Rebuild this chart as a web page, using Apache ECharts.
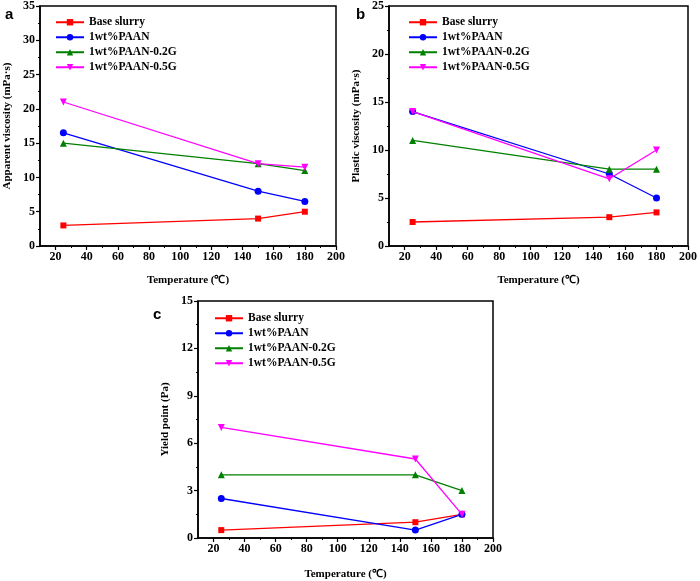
<!DOCTYPE html>
<html>
<head>
<meta charset="utf-8">
<script src="https://cdn.jsdelivr.net/npm/echarts@6/dist/echarts.min.js"></script>
<style>html,body{margin:0;padding:0;background:#fff}#c{width:700px;height:581px}</style>
</head>
<body>
<div id="c"></div>
<script>
const temperatures = [25, 150, 180];
const seriesNames = ['Base slurry', '1wt%PAAN', '1wt%PAAN-0.2G', '1wt%PAAN-0.5G'];
const colors = ['#ff0000', '#0000ff', '#008000', '#ff00ff'];
const xMajorTicks = [20, 40, 60, 80, 100, 120, 140, 160, 180, 200];
const xMinorTicks = [30, 50, 70, 90, 110, 130, 150, 170, 190];

// Panel a: apparent viscosity (mPa·s)
const aBase = [3, 4, 5];
const aPAAN = [16.5, 8, 6.5];
const aPAAN02G = [15, 12, 11];
const aPAAN05G = [21, 12, 11.5];
// Panel b: plastic viscosity (mPa·s)
const bBase = [2.5, 3, 3.5];
const bPAAN = [14, 7.5, 5];
const bPAAN02G = [11, 8, 8];
const bPAAN05G = [14, 7, 10];
// Panel c: yield point (Pa)
const cBase = [0.5, 1, 1.5];
const cPAAN = [2.5, 0.5, 1.5];
const cPAAN02G = [4, 4, 3];
const cPAAN05G = [7, 5, 1.5];

const panels = [
  {label: 'a', yName: 'Apparent viscosity (mPa·s)', yMax: 35, yInt: 5, data: [aBase, aPAAN, aPAAN02G, aPAAN05G],
   grid: {left: 40, top: 5, width: 296, height: 241}, xGap: 29, labelPos: [5, 16], legend: {left: 50, top: 11}},
  {label: 'b', yName: 'Plastic viscosity (mPa·s)', yMax: 25, yInt: 5, data: [bBase, bPAAN, bPAAN02G, bPAAN05G],
   grid: {left: 389, top: 5, width: 301, height: 241}, xGap: 29, labelPos: [356, 16], legend: {left: 403, top: 11}},
  {label: 'c', yName: 'Yield point (Pa)', yMax: 15, yInt: 3, data: [cBase, cPAAN, cPAAN02G, cPAAN05G],
   grid: {left: 198, top: 301, width: 295, height: 238}, xGap: 31, labelPos: [153, 316], legend: {left: 209, top: 307}}
];

const symbols = ['rect', 'circle', 'triangle', 'triangle'];
const rotations = [0, 0, 0, 180];
const FONT = '"Liberation Serif", "Times New Roman", serif';

const grids = [], xAxes = [], yAxes = [], series = [], legends = [], graphics = [];
panels.forEach((p, i) => {
  grids.push(Object.assign({show: true, borderColor: '#000', borderWidth: 1.5, backgroundColor: 'transparent'}, p.grid));
  xAxes.push({
    type: 'value', gridIndex: i, min: 10, max: 200,
    name: 'Temperature (℃)', nameLocation: 'middle', nameGap: p.xGap,
    nameTextStyle: {fontFamily: FONT, fontWeight: 'bold', fontSize: 11, color: '#000'},
    axisLine: {show: true, lineStyle: {color: '#000', width: 1.5}},
    axisTick: {show: true, length: 4, inside: false, customValues: xMajorTicks, lineStyle: {color: '#000', width: 1.2}},
    axisLabel: {show: true, customValues: xMajorTicks, margin: 5, fontFamily: FONT, fontWeight: 'bold', fontSize: 12, color: '#000'},
    splitLine: {show: false}
  });
  xAxes.push({
    type: 'value', gridIndex: i, min: 10, max: 200, position: 'bottom',
    axisLine: {show: false},
    axisTick: {show: true, length: 2, customValues: xMinorTicks, lineStyle: {color: '#000', width: 1}},
    axisLabel: {show: false, customValues: xMinorTicks},
    splitLine: {show: false}
  });
  yAxes.push({
    type: 'value', gridIndex: i, min: 0, max: p.yMax, interval: p.yInt,
    name: p.yName, nameLocation: 'middle', nameGap: 27, nameRotate: 90,
    nameTextStyle: {fontFamily: FONT, fontWeight: 'bold', fontSize: 11, color: '#000'},
    axisLine: {show: true, lineStyle: {color: '#000', width: 1.5}},
    axisTick: {show: true, length: 4, lineStyle: {color: '#000', width: 1.2}},
    minorTick: {show: true, splitNumber: 2, length: 2, lineStyle: {color: '#000', width: 1}},
    axisLabel: {margin: 5, fontFamily: FONT, fontWeight: 'bold', fontSize: 12, color: '#000'},
    splitLine: {show: false}
  });
  p.data.forEach((vals, k) => {
    series.push({
      type: 'line', name: seriesNames[k], xAxisIndex: i * 2, yAxisIndex: i,
      data: temperatures.map((t, j) => [t, vals[j]]),
      symbol: symbols[k], symbolRotate: rotations[k], symbolSize: k === 0 ? 6 : 7,
      lineStyle: {color: colors[k], width: 1.3},
      itemStyle: {color: colors[k]},
      z: 3 + k, animation: false
    });
  });
  legends.push({
    left: p.legend.left, top: p.legend.top, orient: 'vertical',
    data: seriesNames, itemWidth: 28, itemHeight: 8, itemGap: 2.5,
    textStyle: {fontFamily: FONT, fontWeight: 'bold', fontSize: 11.5, color: '#000', lineHeight: 12.5},
    selectedMode: false
  });
  graphics.push({
    type: 'text', left: p.labelPos[0], top: p.labelPos[1] - 9,
    style: {text: p.label, font: 'bold 15px "Liberation Sans", Arial, sans-serif', fill: '#000'}
  });
});

const chart = echarts.init(document.getElementById('c'), null, {renderer: 'canvas'});
chart.setOption({
  backgroundColor: '#fff',
  animation: false,
  grid: grids, xAxis: xAxes, yAxis: yAxes, series: series, legend: legends, graphic: graphics
});
</script>
</body>
</html>
